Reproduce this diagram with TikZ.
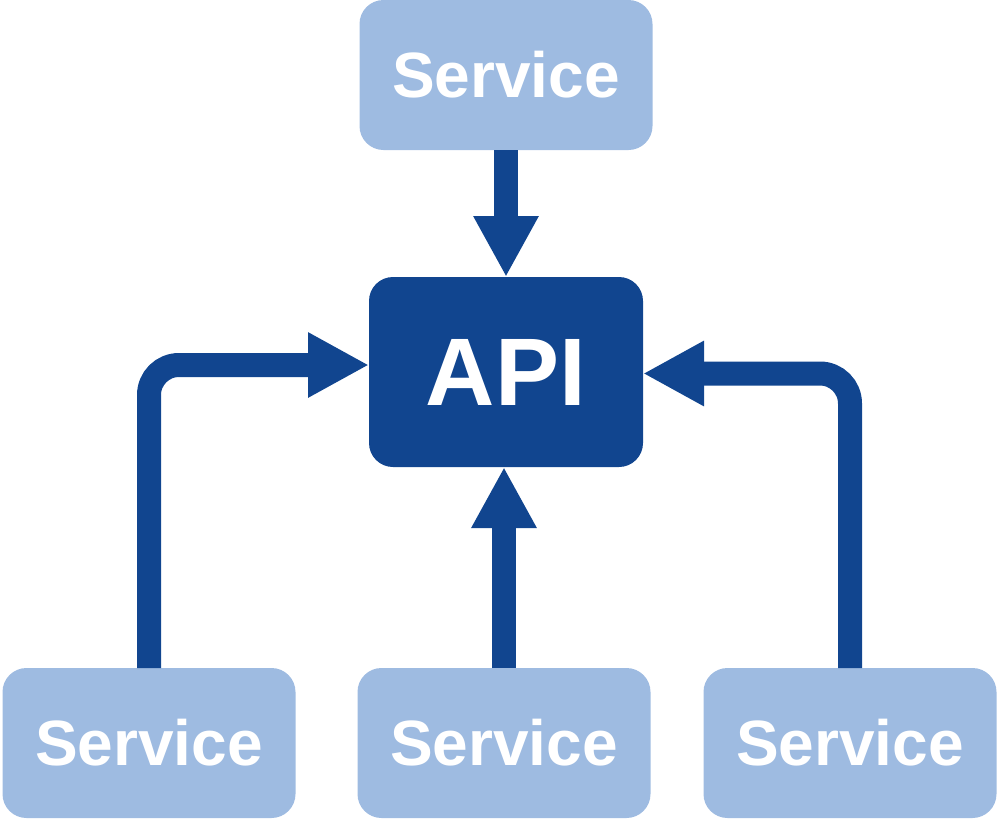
\documentclass[tikz,border=0pt]{standalone}
\usepackage{fontspec}
\setmainfont{Liberation Sans}
\usepackage{tikz}
\usetikzlibrary{arrows.meta,positioning}
\definecolor{apiblue}{RGB}{17,69,143}
\definecolor{svcblue}{RGB}{158,187,225}
\tikzset{%
     service/.style = { fill=svcblue, rounded corners=12pt, minimum width=146.5pt, minimum height=75pt,
                        inner sep=0pt, outer sep=0pt, text=white, font=\fontsize{32}{38}\selectfont\bfseries },
     apibox/.style  = { fill=apiblue, rounded corners=12pt, minimum width=137pt, minimum height=95pt,
                        inner sep=0pt, outer sep=0pt, text=white, font=\fontsize{48}{56}\selectfont\bfseries },
        flow/.style = { apiblue, line width=12pt, -{Triangle[length=30.5pt,width=30.5pt]} },
    bentflow/.style = { flow, rounded corners=15pt }
}
\begin{document}
\begin{tikzpicture}[x=0.5pt,y=-0.5pt]
  \useasboundingbox (0,0) rectangle (998,820);

  \node [apibox] (api) at (506,372) {API};
  \node [service, above=63.5pt of api] (top) {Service};
  \node [service, below=100.5pt of api, xshift=-1pt] (bmid) {Service};
  \node [service, left=31pt of bmid] (bleft) {Service};
  \node [service, right=26.5pt of bmid] (bright) {Service};

  \draw [flow] (top) -- (api);
  \draw [flow] (bmid) -- (bmid |- api.south);
  \draw [bentflow] (bleft.north) |- ([yshift=3.5pt]api.west);
  \draw [bentflow] (bright.north) |- ([yshift=-0.75pt]api.east);
\end{tikzpicture}
\end{document}
